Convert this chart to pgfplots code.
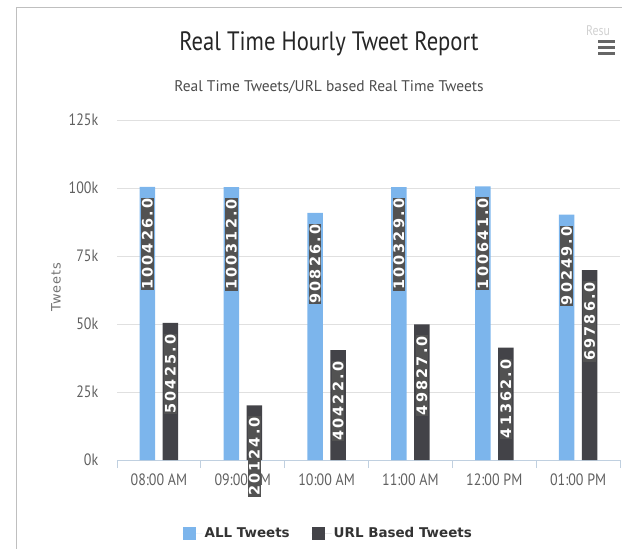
\documentclass[border=0pt]{standalone}
\usepackage{fontspec}
\setmainfont{PT Sans}
\newfontfamily\cond[FakeStretch=0.85]{PT Sans}
\newfontfamily\plain{PT Sans}
\newfontfamily\lblf[LetterSpace=15]{DejaVu Sans}
\newfontfamily\legf{DejaVu Sans}
\newfontfamily\ylf[LetterSpace=8]{DejaVu Sans}
\usepackage{pgfplots}
\pgfplotsset{compat=1.18}
\definecolor{allc}{HTML}{7CB5EC}
\definecolor{urlc}{HTML}{434348}
\definecolor{axisc}{HTML}{C0D0E0}
\definecolor{gridc}{HTML}{E0E0E0}
\definecolor{tickc}{HTML}{606060}
\begin{document}
\begin{tikzpicture}[x=1bp,y=1bp]
\useasboundingbox (0,0) rectangle (622,-549);
\draw[black!25, line width=1bp] (16,-549) -- (16,-8) -- (622,-8);
\node[font=\cond\fontsize{26.7}{27}\selectfont, text=black!85] at (329,-44) {Real Time Hourly Tweet Report};
\node[font=\plain\fontsize{15.5}{16}\selectfont, text=black!70] at (329,-87) {Real Time Tweets/URL based Real Time Tweets};
\node[rotate=90, font=\ylf\fontsize{13}{13}\selectfont, text=black!55] at (56,-287) {Tweets};
\node[anchor=west, inner sep=0, font=\cond\fontsize{14}{14}\selectfont, text=black!18] at (586,-31) {Resu};
\fill[black!60] (598,-40) rectangle (615,-43);
\fill[black!60] (598,-46) rectangle (615,-49);
\fill[black!60] (598,-52) rectangle (615,-55);
\begin{axis}[
  at={(117bp,-460bp)}, anchor=south west,
  scale only axis, width=503bp, height=340bp,
  xmin=-0.5, xmax=5.5,
  xtick={0,...,5},
  xticklabels={08:00 AM,09:00 AM,10:00 AM,11:00 AM,12:00 PM,01:00 PM},
  minor xtick={-0.5,0.5,1.5,2.5,3.5,4.5,5.5},
  minor tick length=8bp, tick align=outside,
  major x tick style={draw=none},
  minor x tick style={draw=axisc, line width=1bp},
  ymin=0, ymax=125000,
  ytick={0,25000,50000,75000,100000,125000},
  yticklabels={0k,25k,50k,75k,100k,125k},
  scaled y ticks=false,
  ymajorgrids, grid style={draw=gridc, line width=0.8bp},
  axis x line*=bottom, axis y line*=left,
  y axis line style={draw=none},
  major y tick style={draw=none},
  x axis line style={draw=axisc, line width=1bp, -},
  ticklabel style={font=\cond\fontsize{16.5}{17}\selectfont, text=tickc},
  yticklabel style={xshift=-11bp},
  xticklabel style={yshift=-6bp},
  ybar=7.5bp, bar width=15.5bp,
  clip=false,
  nodes near coords, point meta=explicit symbolic,
  every node near coord/.append style={rotate=90, anchor=east, text=white,
     font=\lblf\bfseries\fontsize{14.5}{14.5}\selectfont, fill=black!68, inner sep=0.8bp, outer xsep=11bp},
  legend style={at={(0.42,-0.215)}, anchor=center, draw=none, fill=none,
     legend columns=2, font=\legf\bfseries\fontsize{13.5}{14}\selectfont, text=black!80,
     /tikz/every even column/.append style={column sep=20bp}},
  legend image code/.code={\fill[#1] (0bp,-6.5bp) rectangle (13bp,6.5bp); \path (0bp,0bp) -- (20bp,0bp);},
]
\addplot[fill=allc, draw=none] coordinates {
  (0,100426)[100426.0] (1,100312)[100312.0] (2,90826)[90826.0]
  (3,100329)[100329.0] (4,100641)[100641.0] (5,90249)[90249.0]};
\addplot[fill=urlc, draw=none] coordinates {
  (0,50425)[50425.0] (1,20124)[20124.0] (2,40422)[40422.0]
  (3,49827)[49827.0] (4,41362)[41362.0] (5,69786)[69786.0]};
\legend{ALL Tweets, URL Based Tweets}
\end{axis}
\end{tikzpicture}
\end{document}
